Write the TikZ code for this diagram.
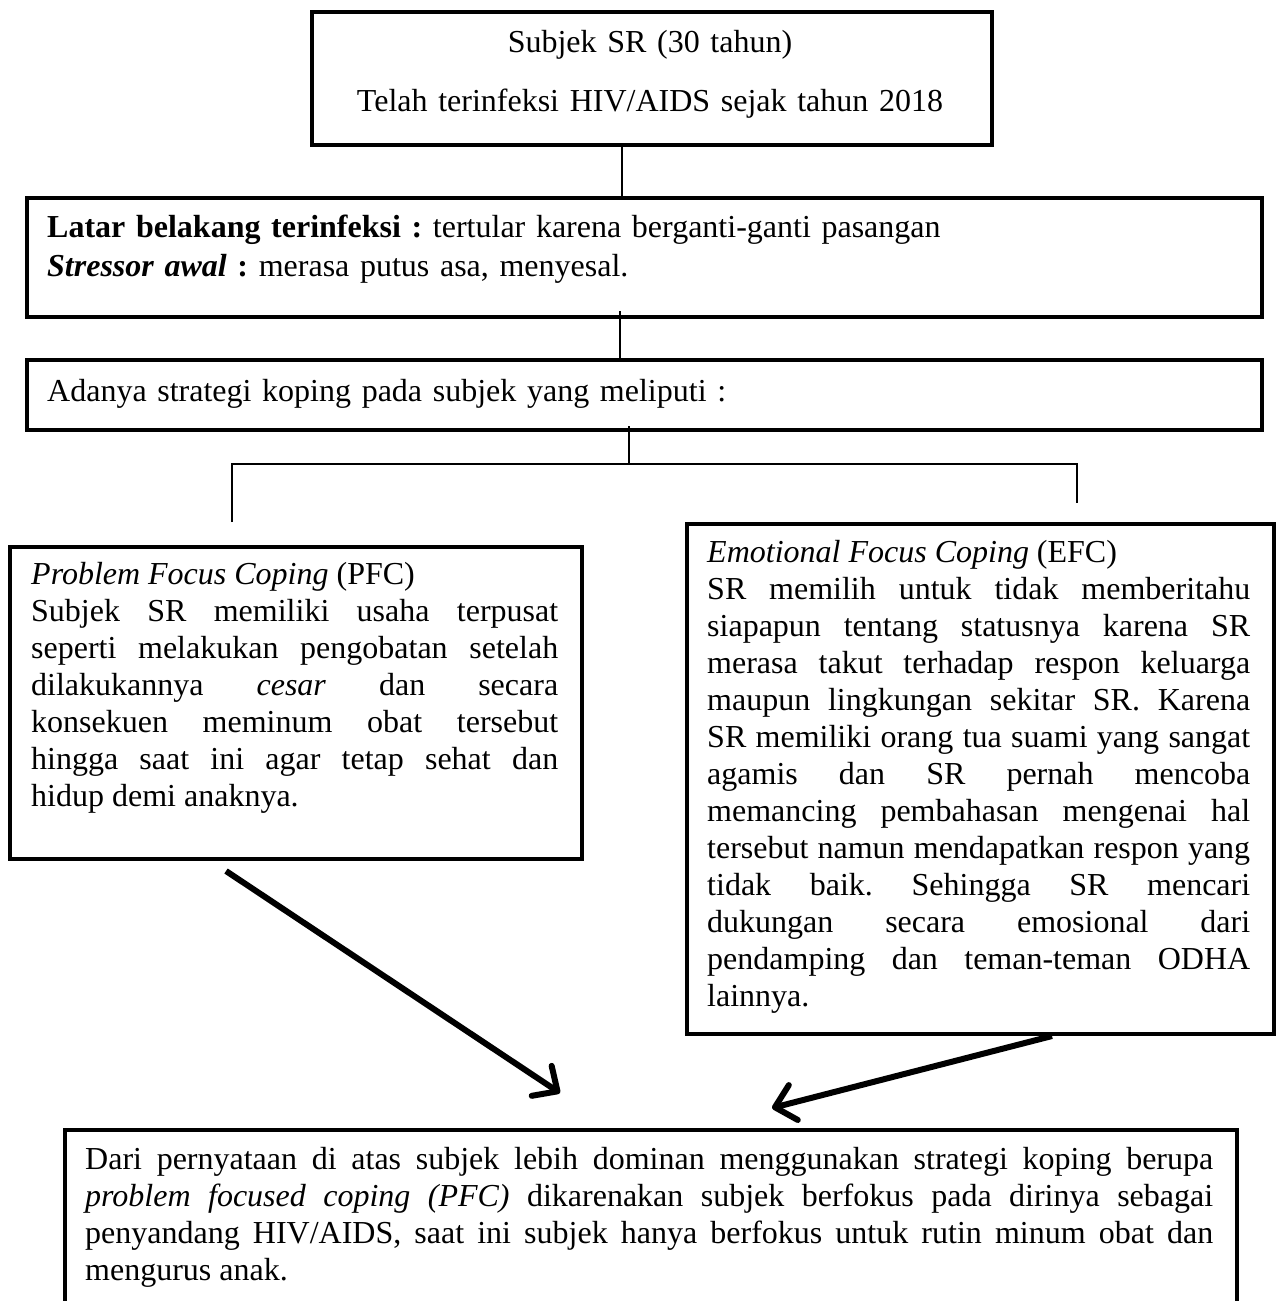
\documentclass[tikz,border=0pt]{standalone}
\usepackage{fontspec}
\setmainfont{Liberation Serif}
\usetikzlibrary{arrows.meta,calc}

\tikzset{
  frame/.style={draw, line width=4pt, rectangle, inner sep=0pt, anchor=north west},
  body/.style={inner sep=0pt, anchor=base west, align=justify,
               font=\fontsize{32}{37}\selectfont},
  conn/.style={line width=1.3pt},
  flow/.style={line width=6pt, -{Straight Barb[length=19pt,width=36pt,round]}},
}

\begin{document}
\frenchspacing
\tolerance=10000
\hyphenpenalty=10000
\exhyphenpenalty=10000
\begin{tikzpicture}[x=1pt,y=-1pt]
  \useasboundingbox (0,0) rectangle (1278,1301);
  \clip (0,0) rectangle (1278,1301);
  \fill[white] (0,0) rectangle (1278,1301);

  % frames
  \node[frame, minimum width=680pt,  minimum height=133pt] (top)  at (310,10)  {};
  \node[frame, minimum width=1235pt, minimum height=119pt] (bg)   at (25,196)  {};
  \node[frame, minimum width=1235pt, minimum height=70pt]  (str)  at (25,358)  {};
  \node[frame, minimum width=572pt,  minimum height=312pt] (pfc)  at (8,545)   {};
  \node[frame, minimum width=587pt,  minimum height=510pt] (efc)  at (685,522) {};
  \node[frame, minimum width=1172pt, minimum height=260pt] (res)  at (63,1128) {};

  % texts
  \node[body, anchor=base, align=center, text width=680pt] (toptext) at (650,52)
    {Subjek SR (30 tahun)\\[22pt]Telah terinfeksi HIV/AIDS sejak tahun 2018};

  \node[body, align=left, text width=1180pt] (bgtext) at (47,237)
    {\textbf{Latar belakang terinfeksi :} tertular karena berganti-ganti pasangan\\[2pt]
     \textbf{\textit{Stressor awal}} \textbf{:} merasa putus asa, menyesal.};

  \node[body, align=left, text width=1180pt] (strtext) at (47,401)
    {Adanya strategi koping pada subjek yang meliputi :};

  \node[body, text width=527pt] (pfctext) at (31,584)
    {\textit{Problem Focus Coping} (PFC)\\
     Subjek SR memiliki usaha terpusat\linebreak
     seperti melakukan pengobatan setelah\linebreak
     dilakukannya \textit{cesar} dan secara\linebreak
     konsekuen meminum obat tersebut\linebreak
     hingga saat ini agar tetap sehat dan\linebreak
     hidup demi anaknya.};

  \node[body, text width=543pt] (efctext) at (707,562)
    {\textit{Emotional Focus Coping} (EFC)\\
     SR memilih untuk tidak memberitahu\linebreak
     siapapun tentang statusnya karena SR\linebreak
     merasa takut terhadap respon keluarga\linebreak
     maupun lingkungan sekitar SR. Karena\linebreak
     SR memiliki orang tua suami yang sangat\linebreak
     agamis dan SR pernah mencoba\linebreak
     memancing pembahasan mengenai hal\linebreak
     tersebut namun mendapatkan respon yang\linebreak
     tidak baik. Sehingga SR mencari\linebreak
     dukungan secara emosional dari\linebreak
     pendamping dan teman-teman ODHA\linebreak
     lainnya.};

  \node[body, text width=1128pt] (restext) at (85,1169)
    {Dari pernyataan di atas subjek lebih dominan menggunakan strategi koping berupa\linebreak
     \textit{problem focused coping (PFC)} dikarenakan subjek berfokus pada dirinya sebagai\linebreak
     penyandang HIV/AIDS, saat ini subjek hanya berfokus untuk rutin minum obat dan\linebreak
     mengurus anak.};

  % connector guides
  \coordinate (c1) at (622,0);
  \coordinate (c2) at (620,0);
  \coordinate (hub) at (629,464);
  \coordinate (dropL) at (232,522);
  \coordinate (dropR) at (1077,503);

  \draw[conn] (top.south -| c1) -- (bg.north -| c1);
  \draw[conn] ($(bg.south -| c2)+(0,-8)$) -- (str.north -| c2);
  \draw[conn] ($(str.south -| hub)+(0,-6)$) -- (hub);
  \draw[conn] (dropL) |- (hub) -| (dropR);

  % arrows into the conclusion
  \coordinate (a1s) at ($(pfc.south west)+(218,10)$);
  \coordinate (a1e) at (560,1093);
  \coordinate (a2s) at ($(efc.south west)+(367,0)$);
  \coordinate (a2e) at (772,1108);
  \draw[flow] (a1s) -- (a1e);
  \draw[flow] (a2s) -- (a2e);
\end{tikzpicture}
\end{document}
